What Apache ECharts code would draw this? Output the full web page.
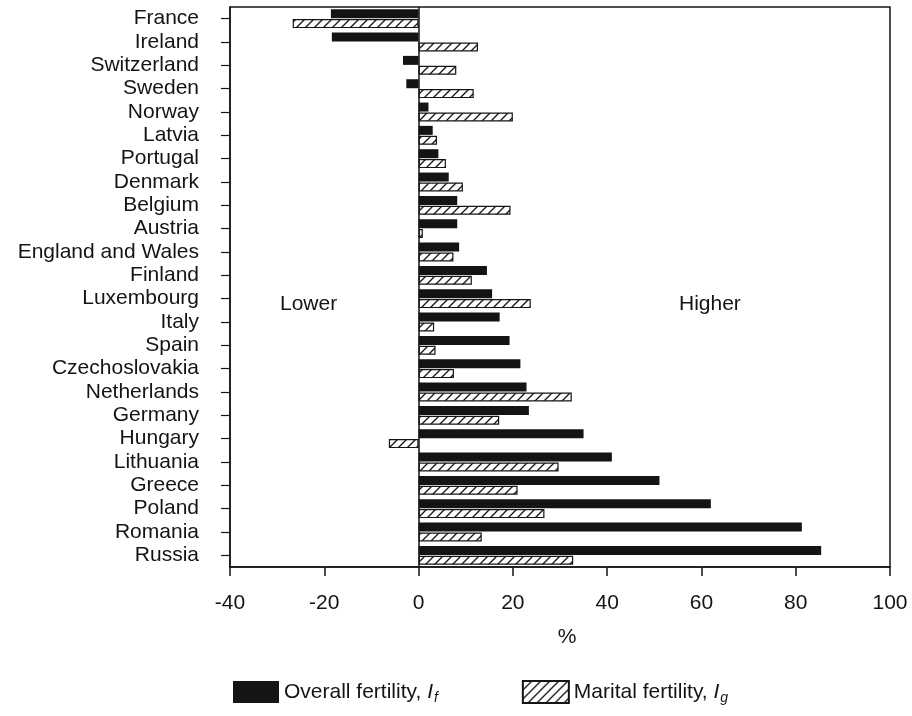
<!DOCTYPE html>
<html>
<head>
<meta charset="utf-8">
<style>
  html, body { margin: 0; padding: 0; background: #fff; }
  #chart { width: 912px; height: 716px; }
</style>
<script src="https://cdn.jsdelivr.net/npm/echarts@6/dist/echarts.min.js"></script>
</head>
<body>
<div id="chart"></div>
<script>
// Change in fertility by country, in percent
const countries = ['France', 'Ireland', 'Switzerland', 'Sweden', 'Norway', 'Latvia', 'Portugal',
  'Denmark', 'Belgium', 'Austria', 'England and Wales', 'Finland', 'Luxembourg', 'Italy', 'Spain',
  'Czechoslovakia', 'Netherlands', 'Germany', 'Hungary', 'Lithuania', 'Greece', 'Poland',
  'Romania', 'Russia'];
const overallFertility = [-18.6, -18.4, -3.3, -2.6, 2.1, 3.0, 4.2, 6.4, 8.2, 8.2, 8.6, 14.5,
  15.6, 17.2, 19.3, 21.6, 22.9, 23.4, 35.0, 41.0, 51.1, 62.0, 81.3, 85.4];
const maritalFertility = [-26.7, 12.6, 8.0, 11.7, 20.0, 3.9, 5.8, 9.4, 19.5, 0.9, 7.4, 11.3,
  23.8, 3.3, 3.6, 7.5, 32.5, 17.1, -6.3, 29.7, 21.0, 26.7, 13.4, 32.8];
const xTicks = { min: -40, max: 100, step: 20 };

const FONT = '"Liberation Sans", Arial, Helvetica, sans-serif';
const INK = '#141414';

// diagonal hatch fill for the marital fertility bars
function makeHatch() {
  const s = 9;
  const c = document.createElement('canvas');
  c.width = s; c.height = s;
  const g = c.getContext('2d');
  g.fillStyle = '#fff';
  g.fillRect(0, 0, s, s);
  g.strokeStyle = INK;
  g.lineWidth = 1.3;
  g.beginPath();
  g.moveTo(0, s); g.lineTo(s, 0);
  g.moveTo(-2, 2); g.lineTo(2, -2);
  g.moveTo(s - 2, s + 2); g.lineTo(s + 2, s - 2);
  g.stroke();
  return c;
}

const chart = echarts.init(document.getElementById('chart'), null, { renderer: 'canvas' });

chart.setOption({
  animation: false,
  backgroundColor: '#fff',
  textStyle: { fontFamily: FONT, color: INK },
  grid: {
    left: 230, right: 22, top: 7, bottom: 149,
    show: true, borderColor: INK, borderWidth: 1.5, backgroundColor: 'transparent'
  },
  xAxis: {
    type: 'value',
    min: xTicks.min, max: xTicks.max, interval: xTicks.step,
    name: '%', nameLocation: 'middle', nameGap: 60,
    nameTextStyle: { fontSize: 21, color: INK, fontFamily: FONT, padding: [0, 0, 0, 14] },
    axisLine: { show: true, lineStyle: { color: INK, width: 1.5 } },
    axisTick: { show: true, length: 9, lineStyle: { color: INK, width: 1.5 } },
    axisLabel: { fontSize: 21, color: INK, margin: 26, fontFamily: FONT },
    splitLine: { show: false }
  },
  yAxis: {
    type: 'category',
    data: countries,
    inverse: true,
    axisLine: { show: true, onZero: false, lineStyle: { color: INK, width: 1.5 } },
    axisTick: { show: true, length: 9, interval: 0, alignWithLabel: true, lineStyle: { color: INK, width: 1.2 } },
    axisLabel: { fontSize: 21, color: INK, margin: 31, interval: 0, fontFamily: FONT }
  },
  legend: {
    left: 228, top: 675,
    itemWidth: 46, itemHeight: 22, itemGap: 84,
    icon: 'rect',
    textStyle: {
      fontSize: 21, color: INK, fontFamily: FONT,
      rich: {
        it: { fontSize: 21, fontStyle: 'italic', color: INK, fontFamily: FONT },
        sub: { fontSize: 14, fontStyle: 'italic', color: INK, fontFamily: FONT, padding: [12, 0, 0, 1] }
      }
    },
    formatter: function (name) {
      return name === 'Overall fertility'
        ? 'Overall fertility, {it|I}{sub|f}'
        : 'Marital fertility, {it|I}{sub|g}';
    },
    data: ['Overall fertility', 'Marital fertility']
  },
  series: [
    {
      name: 'Overall fertility',
      type: 'bar',
      data: overallFertility,
      barWidth: 9,
      barGap: '10%',
      itemStyle: { color: INK },
      markLine: {
        silent: true,
        symbol: 'none',
        label: { show: false },
        lineStyle: { color: INK, width: 1.5, type: 'solid' },
        data: [{ xAxis: 0 }]
      }
    },
    {
      name: 'Marital fertility',
      type: 'bar',
      data: maritalFertility,
      barWidth: 9,
      barGap: '10%',
      itemStyle: {
        color: { image: makeHatch(), repeat: 'repeat' },
        borderColor: INK,
        borderWidth: 1.2
      }
    }
  ],
  graphic: [
    { type: 'text', left: 280, top: 294, style: { text: 'Lower', fontSize: 21, fontFamily: FONT, fill: INK } },
    { type: 'text', left: 679, top: 294, style: { text: 'Higher', fontSize: 21, fontFamily: FONT, fill: INK } }
  ]
});
</script>
</body>
</html>
